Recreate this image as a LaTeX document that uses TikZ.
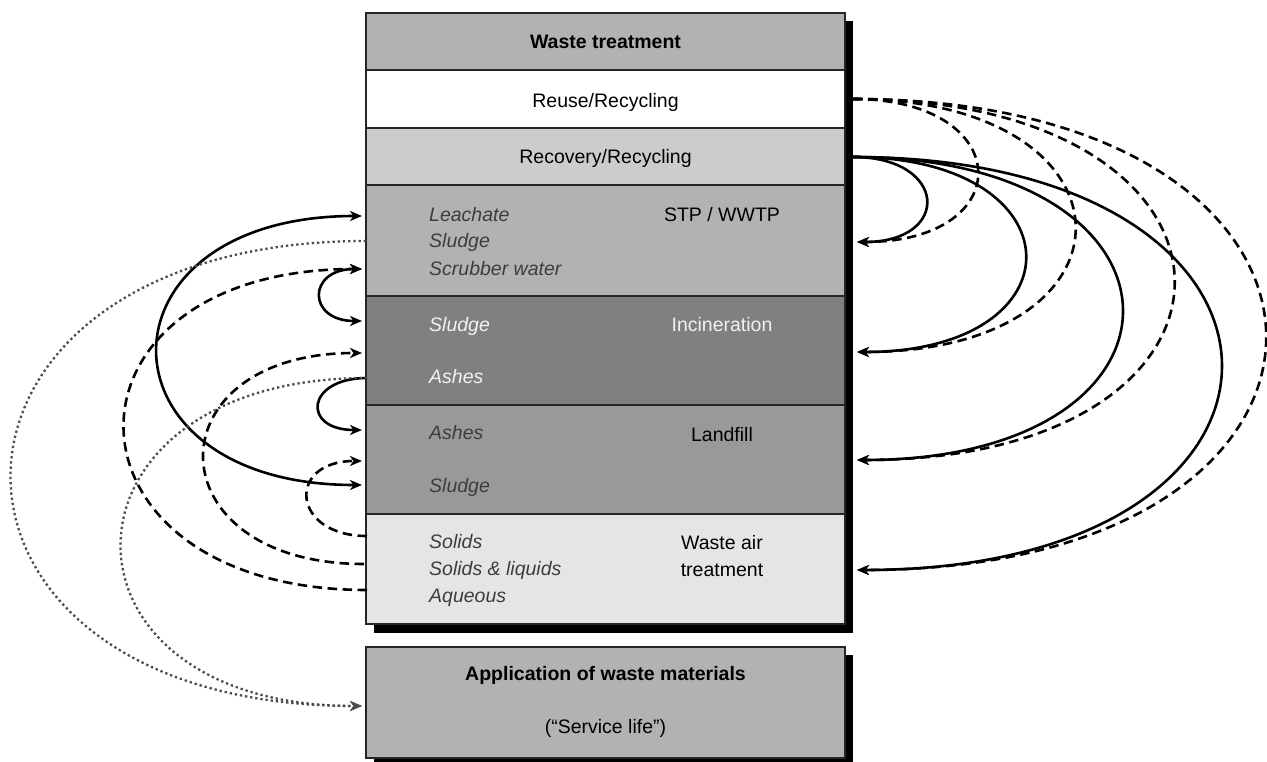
\documentclass[tikz,border=0pt]{standalone}
\usepackage{fontspec}
\setmainfont{Liberation Sans}
\usetikzlibrary{arrows.meta,calc}

\definecolor{edge}{gray}{0.15}
\definecolor{midgray}{gray}{0.70}
\definecolor{lightgray}{gray}{0.80}
\definecolor{darkgray}{gray}{0.50}
\definecolor{landgray}{gray}{0.60}
\definecolor{palegray}{gray}{0.90}
\definecolor{itgray}{gray}{0.24}
\definecolor{dotgray}{gray}{0.30}

\begin{document}
\begin{tikzpicture}[x=1pt,y=-1pt,
  row/.style={draw=edge, line width=1.6pt, anchor=north west,
    minimum width=479pt, inner sep=0pt, outer sep=0pt},
  txt/.style={font=\fontsize{19.5}{27}\selectfont, inner sep=0pt, anchor=base},
  itxt/.style={txt, font=\fontsize{19.5}{27}\selectfont\itshape, anchor=base west, text=itgray},
  solidflow/.style={line width=2.6pt, black, -{Stealth[length=12pt,width=10pt,inset=3.5pt]}},
  dashflow/.style={line width=2.6pt, black, dash pattern=on 9.5pt off 5.5pt,
    -{Stealth[length=12pt,width=10pt,inset=3.5pt]}},
  dotflow/.style={line width=2.3pt, dotgray, dash pattern=on 2.3pt off 2.9pt,
    -{Stealth[length=12pt,width=10pt,inset=3.5pt]}},
  twoway/.style={{Stealth[length=12pt,width=10pt,inset=3.5pt]}-{Stealth[length=12pt,width=10pt,inset=3.5pt]}},
]
\useasboundingbox (0,0) rectangle (1267,762);

% drop shadows
\fill[black] (374,21) rectangle (853,633);
\fill[black] (374,655) rectangle (853,766);

% stacked treatment rows
\node[row, fill=midgray,   minimum height=57pt]  (head)  at (366,13)  {};
\node[row, fill=white,     minimum height=58pt]  (reuse) at (366,70)  {};
\node[row, fill=lightgray, minimum height=57pt]  (recov) at (366,128) {};
\node[row, fill=midgray,   minimum height=111pt] (stp)   at (366,185) {};
\node[row, fill=darkgray,  minimum height=109pt] (incin) at (366,296) {};
\node[row, fill=landgray,  minimum height=109pt] (landf) at (366,405) {};
\node[row, fill=palegray,  minimum height=110pt] (air)   at (366,514) {};

% application box
\node[row, fill=midgray, minimum height=111pt] (app) at (366,647) {};

% row titles
\node[txt, font=\fontsize{19.5}{27}\selectfont\bfseries] (tHead) at (605.5,48.5) {Waste treatment};
\node[txt] (tReuse) at (605.5,107.5) {Reuse/Recycling};
\node[txt] (tRecov) at (605.5,163.5) {Recovery/Recycling};
\node[txt] (tStp)   at (722,221.5) {STP / WWTP};
\node[txt, text=white!95!black] (tInc) at (722,331) {Incineration};
\node[txt] (tLand)  at (722,441) {Landfill};
\node[txt] (tAir1)  at (722,549) {Waste air};
\node[txt] (tAir2)  at (722,576.5) {treatment};
\node[txt, font=\fontsize{19.5}{27}\selectfont\bfseries] (tApp) at (605.5,680) {Application of waste materials};
\node[txt] (tLife) at (605.5,733) {(“Service life”)};

% material streams
\node[itxt] (mLeach)  at (429,221.5) {Leachate};
\node[itxt] (mSludge) at (429,248)   {Sludge};
\node[itxt] (mScrub)  at (429,275.5) {Scrubber water};
\node[itxt, text=white!95!black] (mIncSl) at (429,331) {Sludge};
\node[itxt, text=white!95!black] (mIncAs) at (429,383) {Ashes};
\node[itxt] (mLfAs)  at (429,439.5) {Ashes};
\node[itxt] (mLfSl)  at (429,492.5) {Sludge};
\node[itxt] (mSol)   at (429,548.5) {Solids};
\node[itxt] (mSolLq) at (429,575.5) {Solids \& liquids};
\node[itxt] (mAq)    at (429,602)   {Aqueous};

% connection points, right side
\coordinate (reuseR) at (853,99);
\coordinate (recovR) at (853,157);
\coordinate (stpR)   at (857,242);
\coordinate (incR)   at (857,352);
\coordinate (lfR)    at (857,460);
\coordinate (airR)   at (857,570);

% connection points, left side
\coordinate (leachL)     at (362,216);
\coordinate (stpSludgeL) at (366,241);
\coordinate (scrubL)     at (362,269);
\coordinate (incSludgeL) at (362,321);
\coordinate (incArrL)    at (362,353);
\coordinate (incAshL)    at (367,378);
\coordinate (lfAshL)     at (362,430);
\coordinate (lfArrL)     at (362,461);
\coordinate (lfSludgeL)  at (362,485);
\coordinate (air1L)      at (367,536);
\coordinate (air2L)      at (364,564);
\coordinate (air3L)      at (367,590);
\coordinate (appL)       at (362,706);

% reuse/recycling loops (dashed)
\draw[dashflow] (reuseR) .. controls ($(reuseR)+(163,0)$) and ($(stpR)+(163,0)$) .. (stpR);
\draw[dashflow] (reuseR) .. controls ($(reuseR)+(293,0)$) and ($(incR)+(293,0)$) .. (incR);
\draw[dashflow] (reuseR) .. controls ($(reuseR)+(425,0)$) and ($(lfR)+(425,0)$) .. (lfR);
\draw[dashflow] (reuseR) .. controls ($(reuseR)+(547,0)$) and ($(airR)+(547,0)$) .. (airR);

% recovery/recycling loops (solid)
\draw[solidflow] (recovR) .. controls ($(recovR)+(95,0)$) and ($(stpR)+(95,0)$) .. (stpR);
\draw[solidflow] (recovR) .. controls ($(recovR)+(227,0)$) and ($(incR)+(227,0)$) .. (incR);
\draw[solidflow] (recovR) .. controls ($(recovR)+(356,0)$) and ($(lfR)+(356,0)$) .. (lfR);
\draw[solidflow] (recovR) .. controls ($(recovR)+(488,0)$) and ($(airR)+(488,0)$) .. (airR);

% exchanges between treatment steps (solid)
\draw[solidflow, twoway]
  (leachL) .. controls ($(leachL)+(-272,0)$) and ($(lfSludgeL)+(-272,0)$) .. (lfSludgeL);
\draw[solidflow, twoway]
  (scrubL) .. controls ($(scrubL)+(-55,0)$) and ($(incSludgeL)+(-55,0)$) .. (incSludgeL);
\draw[solidflow]
  (incAshL) .. controls ($(incAshL)+(-61,0)$) and ($(lfAshL)+(-61,0)$) .. (lfAshL);

% residues of waste air treatment (dashed)
\draw[dashflow] (air3L) .. controls ($(air3L)+(-320,0)$) and ($(scrubL)+(-320,0)$) .. (scrubL);
\draw[dashflow] (air2L) .. controls ($(air2L)+(-212,0)$) and ($(incArrL)+(-212,0)$) .. (incArrL);
\draw[dashflow] (air1L) .. controls ($(air1L)+(-76,0)$) and ($(lfArrL)+(-76,0)$) .. (lfArrL);

% materials put to use (dotted)
\draw[dotflow] (stpSludgeL) .. controls ($(stpSludgeL)+(-470,0)$) and ($(appL)+(-470,0)$) .. (appL);
\draw[dotflow] (incAshL) .. controls ($(incAshL)+(-324,0)$) and ($(appL)+(-324,0)$) .. (appL);
\end{tikzpicture}
\end{document}
